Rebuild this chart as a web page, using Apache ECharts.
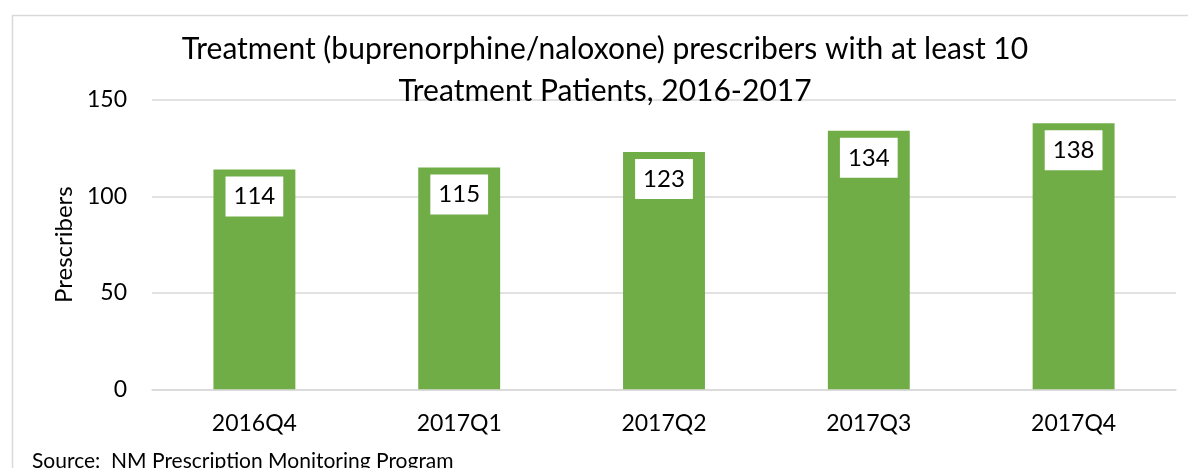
<!DOCTYPE html>
<html><head><meta charset="utf-8">
<script src="https://cdn.jsdelivr.net/npm/echarts@6/dist/echarts.min.js"></script>
<style>html,body{margin:0;padding:0;background:#fff}#c{width:1188px;height:468px}</style>
</head><body><div id="c"></div>
<script>
const categories = ['2016Q4', '2017Q1', '2017Q2', '2017Q3', '2017Q4'];
const prescribers = [114, 115, 123, 134, 138];
const yTicks = { min: 0, max: 150, interval: 50 };
const titleText = 'Treatment (buprenorphine/naloxone) prescribers with at least 10\nTreatment Patients, 2016-2017';
const sourceText = 'Source:  NM Prescription Monitoring Program';
const yName = 'Prescribers';

const FONT = 'Lato';
const chart = echarts.init(document.getElementById('c'), null, { renderer: 'canvas' });
chart.setOption({
  animation: false,
  backgroundColor: '#fff',
  title: {
    text: titleText,
    left: 605,
    textAlign: 'center',
    top: 28,
    padding: 0,
    textStyle: { fontFamily: FONT, fontSize: 30, fontWeight: 'normal', color: '#000', lineHeight: 42 }
  },
  grid: { left: 152, right: 12, top: 100, bottom: 78.7, containLabel: false },
  xAxis: {
    type: 'category',
    data: categories,
    axisLine: { lineStyle: { color: '#d9d9d9', width: 1.5 } },
    axisTick: { show: false },
    axisLabel: { fontFamily: FONT, fontSize: 23, color: '#000', margin: 23 }
  },
  yAxis: {
    type: 'value',
    min: yTicks.min, max: yTicks.max, interval: yTicks.interval,
    name: yName,
    nameLocation: 'middle',
    nameGap: 76,
    nameTextStyle: { fontFamily: FONT, fontSize: 24, color: '#000' },
    axisLine: { show: false },
    axisTick: { show: false },
    splitLine: { lineStyle: { color: '#d9d9d9', width: 1.5 } },
    axisLabel: { fontFamily: FONT, fontSize: 23, color: '#000', margin: 25 }
  },
  series: [{
    type: 'bar',
    data: prescribers,
    barWidth: '40%',
    itemStyle: { color: '#70ad47' },
    label: {
      show: true,
      position: 'insideTop',
      distance: 7,
      fontFamily: FONT,
      fontSize: 24,
      color: '#000',
      backgroundColor: '#fff',
      padding: [6, 8, 6, 8],
      lineHeight: 28
    }
  }],
  graphic: [
    { type: 'rect', left: 10, top: 13, silent: true, z: -1,
      shape: { width: 1200, height: 500 },
      style: { fill: 'none', stroke: '#d9d9d9', lineWidth: 1.5 } },
    { type: 'text', left: 32, top: 451,
      style: { text: sourceText, font: '21px Lato', fill: '#000' } }
  ]
});
</script></body></html>
